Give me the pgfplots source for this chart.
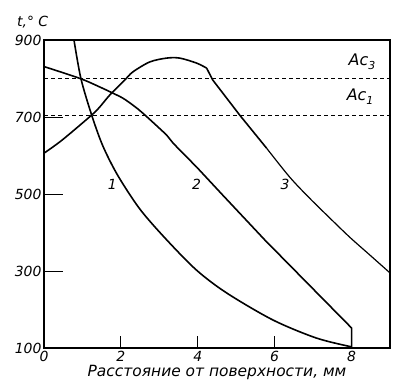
\documentclass[border=0pt]{standalone}
\usepackage{pgfplots}
\pgfplotsset{compat=1.18}
\usepackage{fontspec}
\setmainfont{DejaVu Sans}
\begin{document}
\begin{tikzpicture}
\begin{axis}[
  scale only axis,
  width=346bp, height=308bp,
  xmin=0, xmax=9, ymin=100, ymax=900,
  xtick={0,2,4,6,8}, ytick={100,300,500,700,900},
  tick align=inside,
  xtick pos=left, ytick pos=left,
  x tick style={/pgfplots/major tick length=12bp, line width=1pt, black},
  y tick style={/pgfplots/major tick length=19bp, line width=1pt, black},
  axis line style={line width=1.1pt},
  /pgf/number format/assume math mode=true,
  ticklabel style={font=\fontsize{14}{14}\selectfont\itshape},
  xticklabel style={yshift=0bp},
  yticklabel style={xshift=1bp},
  xlabel={Расстояние от поверхности, мм},
  xlabel style={font=\fontsize{15.5}{15.5}\selectfont\itshape, yshift=4bp},
  clip=false,
]
% Ac lines
\addplot[black, line width=0.8pt, dash pattern=on 4bp off 3bp] coordinates {(0,800) (9,800)};
\addplot[black, line width=0.8pt, dash pattern=on 4bp off 3bp] coordinates {(0,705) (9,705)};
% curve 1
\addplot[black, line width=1.6pt, smooth] coordinates {
(0.78,900) (0.96,800) (1.24,705) (1.53,625) (1.92,548) (2.5,460) (3.19,381) (3.97,302) (4.75,243) (5.95,173) (7.08,126) (8.0,103)};
% curve 2
\addplot[black, line width=1.6pt, smooth] coordinates {
(0,831) (0.94,800) (1.45,778) (1.79,762) (2.05,749) (2.31,731) (2.57,710) (3.19,653) (3.36,632) (3.97,570)};
\addplot[black, line width=1.6pt] coordinates {(3.97,570) (4.65,497) (5.74,381) (8,152) (8,100)};
% curve 3
\addplot[black, line width=1.6pt, smooth] coordinates {
(0,606) (0.47,640) (1.24,705) (1.45,726) (1.71,757) (2.10,796) (2.31,817) (2.75,843) (3.19,853) (3.53,853) (3.97,840) (4.23,827)};
\addplot[black, line width=1.6pt] coordinates {(4.23,827) (4.39,796) (5.09,705) (5.79,619)};
\addplot[black, line width=1.2pt, smooth] coordinates {(5.79,619) (6.39,544) (6.9,490) (7.43,438) (7.95,388) (8.47,342) (9,295)};
% labels
\node[font=\fontsize{14}{14}\selectfont\itshape] at (axis cs:1.78,526) {1};
\node[font=\fontsize{14}{14}\selectfont\itshape] at (axis cs:3.97,526) {2};
\node[font=\fontsize{14}{14}\selectfont\itshape] at (axis cs:6.27,526) {3};
\node[font=\fontsize{16}{16}\selectfont\itshape, anchor=base west, inner sep=0pt] at (axis cs:7.92,835) {Ac\raisebox{-4bp}{\fontsize{11}{11}\selectfont 3}};
\node[font=\fontsize{16}{16}\selectfont\itshape, anchor=base west, inner sep=0pt] at (axis cs:7.87,744) {Ac\raisebox{-4bp}{\fontsize{11}{11}\selectfont 1}};
\node[font=\fontsize{14}{14}\selectfont\itshape, anchor=base west, inner sep=0pt] at ([xshift=-27bp,yshift=13bp]rel axis cs:0,1) {t,° C};
\end{axis}
\path ([xshift=-44bp,yshift=-43bp]current axis.south west) rectangle ([xshift=21bp,yshift=40bp]current axis.north east);
\end{tikzpicture}
\end{document}
